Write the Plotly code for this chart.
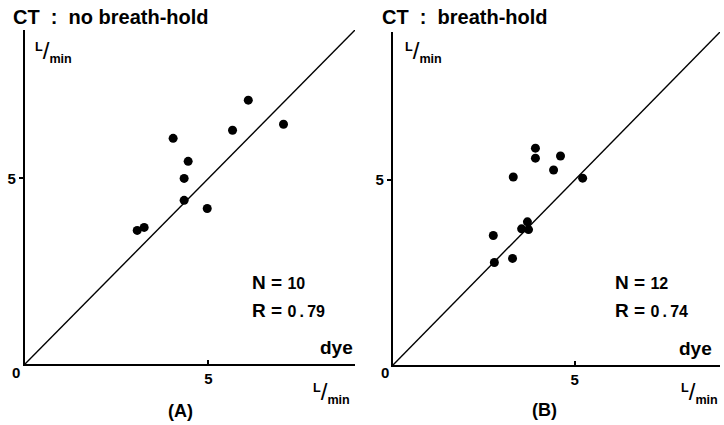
import plotly.graph_objects as go

# ---- data (L/min) ----
a_dye = [4.04, 6.09, 5.66, 7.05, 4.45, 4.34, 4.34, 4.97, 3.06, 3.25]
a_ct = [6.08, 7.11, 6.30, 6.46, 5.46, 5.00, 4.41, 4.19, 3.60, 3.68]
b_dye = [3.92, 3.92, 4.61, 4.42, 3.31, 5.22, 2.76, 3.54, 3.70, 3.73, 2.79, 3.29]
b_ct = [5.86, 5.59, 5.65, 5.27, 5.08, 5.05, 3.50, 3.68, 3.87, 3.66, 2.77, 2.88]
identity = [0, 9]
tick_vals = [5]
tick_text = ["5"]
titles = ["CT\u00a0\u00a0:\u00a0\u00a0no breath-hold", "CT\u00a0\u00a0:\u00a0\u00a0breath-hold"]
stats = [("10", "0\u2009.\u200979"), ("12", "0\u2009.\u200974")]
panel_labels = ["(A)", "(B)"]

W, H = 724, 425
FONT = "Liberation Sans, Arial, Helvetica, sans-serif"


def px(x):
    return x / W


def py(y):
    return (H - y) / H


fig = go.Figure()

for xs, ys, xa, ya in [(a_dye, a_ct, "x", "y"), (b_dye, b_ct, "x2", "y2")]:
    fig.add_trace(go.Scatter(x=identity, y=identity, mode="lines", line=dict(color="black", width=1.4),
                             xaxis=xa, yaxis=ya, hoverinfo="skip"))
    fig.add_trace(go.Scatter(x=xs, y=ys, mode="markers", marker=dict(color="black", size=9),
                             xaxis=xa, yaxis=ya))

axis_common = dict(range=[0, 9], showgrid=False, zeroline=False, showline=True, linecolor="black",
                   linewidth=2.2, ticklen=4, tickwidth=1.5, tickcolor="black",
                   tickmode="array", tickvals=tick_vals, ticktext=tick_text,
                   tickfont=dict(family=FONT, size=15, color="black", weight="bold"), fixedrange=True)

fig.update_layout(
    width=W, height=H, margin=dict(l=0, r=0, t=0, b=0),
    paper_bgcolor="white", plot_bgcolor="white", showlegend=False,
    xaxis=dict(domain=[px(25), px(355)], anchor="y", ticks="inside", **axis_common),
    yaxis=dict(domain=[py(364), py(30)], anchor="x", ticks="outside", **axis_common),
    xaxis2=dict(domain=[px(393), px(720)], anchor="y2", ticks="inside", **axis_common),
    yaxis2=dict(domain=[py(365), py(32)], anchor="x2", ticks="outside", **axis_common),
)

ann = []


def text(x, y, s, size, xanchor="left", yanchor="middle"):
    ann.append(dict(x=px(x), y=py(y), xref="paper", yref="paper", text=s, showarrow=False,
                    xanchor=xanchor, yanchor=yanchor,
                    font=dict(family=FONT, size=size, color="black")))


unit = "<b><sup>L</sup><span style='font-size:24px;font-weight:normal'>/</span><sub>min</sub></b>"

# panel A
text(11, 17, "<b>" + titles[0] + "</b>", 20)
text(33, 52, unit, 18)
text(250, 282, "<b>N = <span style='font-size:16px'>" + stats[0][0] + "</span></b>", 19)
text(250, 311, "<b>R = <span style='font-size:16px'>" + stats[0][1] + "</span></b>", 19)
text(355, 347, "<b>dye</b>", 19, xanchor="right")
text(16, 372, "<b>0</b>", 15, xanchor="center")
text(311, 392, unit, 18)
text(180, 411, "<b>" + panel_labels[0] + "</b>", 18, xanchor="center")

# panel B
text(380, 17, "<b>" + titles[1] + "</b>", 20)
text(403, 52, unit, 18)
text(613, 282, "<b>N = <span style='font-size:16px'>" + stats[1][0] + "</span></b>", 19)
text(613, 311, "<b>R = <span style='font-size:16px'>" + stats[1][1] + "</span></b>", 19)
text(714, 348, "<b>dye</b>", 19, xanchor="right")
text(385, 372, "<b>0</b>", 15, xanchor="center")
text(679, 392, unit, 18)
text(544, 410, "<b>" + panel_labels[1] + "</b>", 18, xanchor="center")

fig.update_layout(annotations=ann)
fig.write_html("out.html")
